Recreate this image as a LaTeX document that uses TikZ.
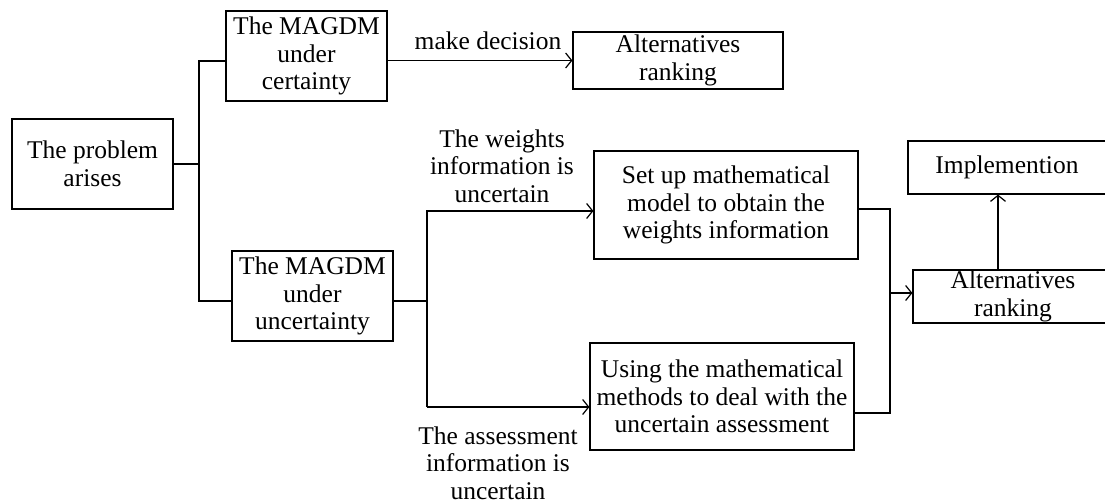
\documentclass[tikz,border=0pt]{standalone}
\usepackage{fontspec}
\setmainfont{Liberation Serif}
\usetikzlibrary{arrows.meta}
\newcommand\diafs{\fontsize{25.5}{27.5}\selectfont}
\begin{document}
\begin{tikzpicture}[x=1pt,y=-1pt, line width=1.2pt,
  box/.style={draw, align=center, inner sep=0pt, font=\diafs},
  lbl/.style={align=center, inner sep=0pt, font=\diafs},
  arr/.style={-{Straight Barb[length=6pt,width=15pt]}}]
\useasboundingbox (0,0) rectangle (1105,503);
\clip (0,0) rectangle (1105,503);
% boxes
\node[box, minimum width=161pt, minimum height=90pt] (prob) at (92.5,164) {The problem\\arises};
\node[box, minimum width=161pt, minimum height=90pt] (cert) at (306.5,56) {The MAGDM\\under\\certainty};
\node[box, minimum width=161pt, minimum height=90pt] (unc) at (312.5,296) {The MAGDM\\under\\uncertainty};
\node[box, minimum width=210pt, minimum height=57pt] (alt1) at (678,60.5) {Alternatives\\ranking};
\node[box, minimum width=264pt, minimum height=108pt] (setup) at (726,205) {Set up mathematical\\model to obtain the\\weights information};
\node[box, minimum width=264pt, minimum height=107pt] (using) at (722,396.5) {Using the mathematical\\methods to deal with the\\uncertain assessment};
\node[box, minimum width=198pt, minimum height=53pt] (impl) at (1007,167.5) {Implemention};
\node[box, minimum width=200pt, minimum height=53pt] (alt2) at (1013,296.5) {Alternatives\\ranking};
% labels
\node[lbl] (lmake) at (488,41) {make decision};
\node[lbl] (lweights) at (502,166) {The weights\\information is\\uncertain};
\node[lbl] (lassess) at (498,463) {The assessment\\information is\\uncertain};
% junction coordinates
\coordinate (bus1) at (199,164);
\coordinate (b2t) at (427,211);
\coordinate (b2b) at (427,407);
\coordinate (b3) at (890,293);
% connectors
\draw (prob.east) -- (bus1);
\draw ([yshift=-5pt]cert.west) -| (bus1) |- ([yshift=-5pt]unc.west);
\draw[arr] (cert.east |- alt1.west) -- (alt1.west);
\draw ([yshift=-5pt]unc.east) -- ([yshift=-5pt]unc.east -| b2t);
\draw[arr] (b2b) -- (b2t) -- (setup.west |- b2t);
\draw[arr] (b2b) -- (using.west |- b2b);
\draw ([yshift=-4pt]setup.east) -| (b3) |- ([yshift=-16.5pt]using.east);
\draw[arr] (b3) -- (alt2.west |- b3);
\draw[arr] ([xshift=-15pt]alt2.north) -- ([xshift=-15pt]alt2.north |- impl.south);
\end{tikzpicture}
\end{document}
